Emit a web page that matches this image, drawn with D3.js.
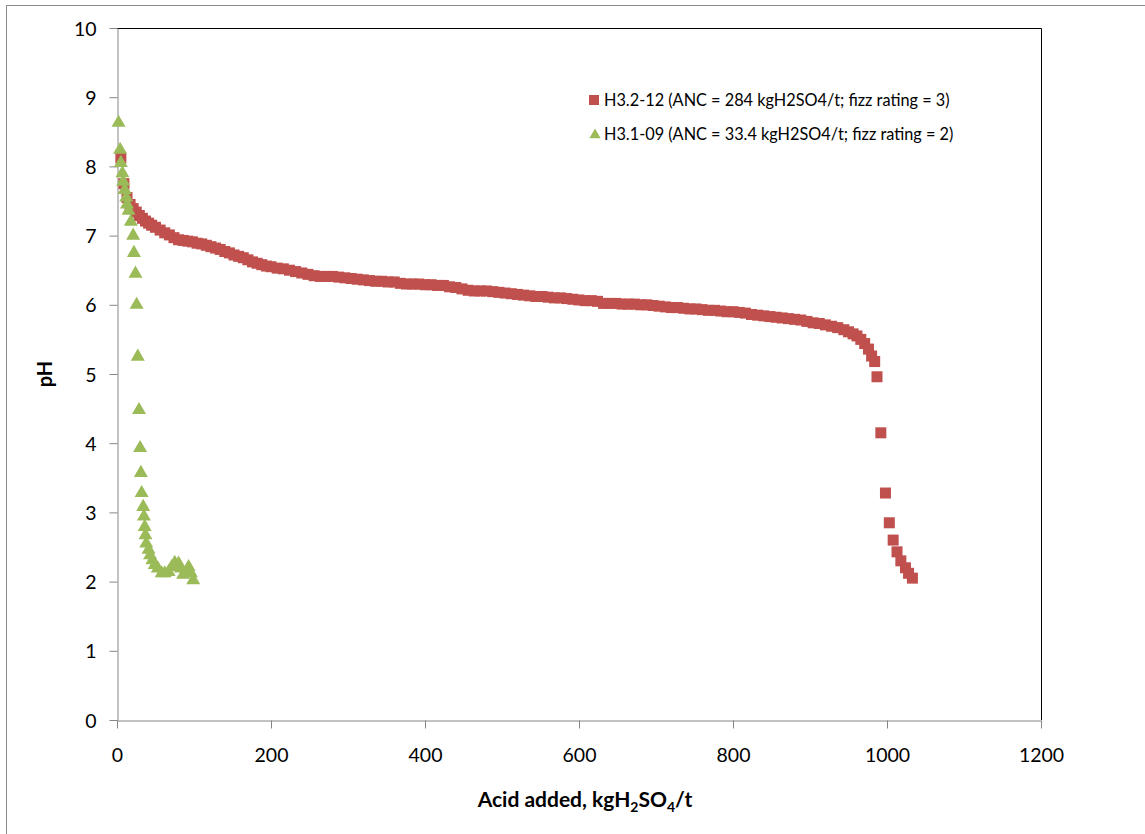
<!DOCTYPE html>
<html><head><meta charset="utf-8">
<script src="https://cdn.jsdelivr.net/npm/d3@7"></script>
<style>body{margin:0;background:#fff;}svg{display:block;font-family:Lato,"Open Sans",sans-serif;}</style>
</head><body>
<svg id="c" width="1145" height="834"></svg>
<script>
const xTicks = [0, 200, 400, 600, 800, 1000, 1200];
const yTicks = [0, 1, 2, 3, 4, 5, 6, 7, 8, 9, 10];
const seriesNames = ["H3.2-12 (ANC = 284 kgH2SO4/t; fizz rating = 3)", "H3.1-09 (ANC = 33.4 kgH2SO4/t; fizz rating = 2)"];
const redX = [5,9,13,17,21,25,29,33,37,41,45,50,56,62,68,74,80,86,92,98,104,110,116,122,128,134,140,146,152,158,164,170,176,182,188,194,200,208,216,224,232,240,248,256,264,272,280,288,296,304,312,320,328,336,344,352,360,368,376,384,392,400,408,416,424,432,440,448,456,464,472,480,488,496,504,512,520,528,536,544,552,560,568,576,584,592,600,608,616,624,632,640,648,656,664,672,680,688,696,704,712,720,728,736,744,752,760,768,776,784,792,800,808,816,824,832,840,848,856,864,872,880,888,896,904,912,920,928,936,944,950,956,961,966,971,976,980,984,987,992,998,1003,1008,1013,1018,1024,1028,1033];
const redPH = [8.12,7.75,7.55,7.45,7.39,7.34,7.29,7.25,7.21,7.18,7.15,7.12,7.08,7.04,7.01,6.97,6.94,6.93,6.92,6.91,6.89,6.88,6.86,6.84,6.82,6.8,6.77,6.75,6.72,6.7,6.68,6.65,6.62,6.6,6.58,6.56,6.55,6.53,6.52,6.5,6.48,6.46,6.44,6.42,6.41,6.41,6.41,6.4,6.39,6.38,6.37,6.36,6.35,6.34,6.34,6.33,6.33,6.31,6.3,6.3,6.3,6.29,6.29,6.28,6.28,6.26,6.25,6.23,6.21,6.2,6.2,6.2,6.19,6.18,6.17,6.16,6.15,6.14,6.13,6.12,6.12,6.11,6.1,6.1,6.09,6.08,6.07,6.06,6.06,6.05,6.02,6.02,6.02,6.01,6.01,6.01,6.0,6.0,5.99,5.98,5.97,5.96,5.96,5.95,5.94,5.94,5.93,5.92,5.92,5.91,5.9,5.9,5.89,5.88,5.86,5.85,5.84,5.83,5.82,5.81,5.8,5.79,5.78,5.76,5.74,5.73,5.71,5.69,5.67,5.64,5.61,5.58,5.55,5.5,5.44,5.36,5.26,5.18,4.96,4.15,3.28,2.85,2.6,2.43,2.3,2.2,2.12,2.05];
const greenX = [2,4,5,7,8,10,12,13,15,18,21,22,24,25.5,27,28.6,30,31,32,34,35,36,37,38,41,43,46,49,53,58,62,67,71,75,80,83,86,90,93,96,99];
const greenPH = [8.63,8.24,8.05,7.9,7.78,7.66,7.55,7.45,7.36,7.2,7.0,6.75,6.45,6.0,5.25,4.48,3.93,3.57,3.28,3.08,2.94,2.79,2.67,2.55,2.46,2.38,2.31,2.24,2.19,2.12,2.12,2.14,2.21,2.27,2.26,2.19,2.1,2.14,2.21,2.12,2.02];

const svg = d3.select("#c");
const m = {l:117, r:1041, t:28, b:720};
const x = d3.scaleLinear().domain([0,1200]).range([m.l, m.r]);
const y = d3.scaleLinear().domain([0,10]).range([m.b, m.t]);
const red = "#C0504D", green = "#9BBB59", axisC = "#868686";

svg.append("rect").attr("x",6.5).attr("y",5.5).attr("width",1160).attr("height",850)
  .attr("fill","none").attr("stroke","#8c8c8c").attr("stroke-width",1);

svg.append("path").attr("d",`M${m.l},${m.t+0.5}H${m.r+0.5}V${m.b}`).attr("fill","none").attr("stroke","#000").attr("stroke-width",1);

const xa = svg.append("g").attr("transform",`translate(0,${m.b+0.5})`)
  .call(d3.axisBottom(x).tickValues(xTicks).tickFormat(d3.format("d")).tickSize(8).tickSizeOuter(0).tickPadding(20));
const ya = svg.append("g").attr("transform",`translate(${m.l+0.5},0)`)
  .call(d3.axisLeft(y).tickValues(yTicks).tickFormat(d3.format("d")).tickSize(8).tickSizeOuter(0).tickPadding(13));
[xa,ya].forEach(g=>{
  g.selectAll("path,line").attr("stroke",axisC);
  g.selectAll("text").attr("fill","#000").style("font-size","19.5px").style("font-family","Lato, sans-serif");
});
ya.selectAll("text").attr("dy","0.36em");

const gr = svg.append("g");
const sq = 11;
gr.selectAll("rect.r").data(redX.map((v,i)=>[v,redPH[i]])).join("rect")
  .attr("x",d=>x(d[0])-sq/2).attr("y",d=>y(d[1])-sq/2).attr("width",sq).attr("height",sq).attr("fill",red);
const tri = d3.symbol().type(d3.symbolTriangle).size(85);
gr.selectAll("path.g").data(greenX.map((v,i)=>[v,greenPH[i]])).join("path")
  .attr("d",tri).attr("transform",d=>`translate(${x(d[0])},${y(d[1])})`).attr("fill",green);

const lg = svg.append("g");
lg.append("rect").attr("x",589).attr("y",95).attr("width",10).attr("height",10).attr("fill",red);
lg.append("path").attr("d",d3.symbol().type(d3.symbolTriangle).size(55)).attr("transform","translate(595,135)").attr("fill",green);
seriesNames.forEach((s,i)=>{
  lg.append("text").attr("x",604).attr("y",100+i*34).attr("dy","0.35em")
    .style("font-size","16.3px").style("font-family","Lato, sans-serif").attr("fill","#000").text(s);
});

svg.append("text").attr("transform","translate(52,374) rotate(-90)").attr("text-anchor","middle")
  .style("font-size","20px").style("font-weight","bold").text("pH");
const xt = svg.append("text").attr("x",585).attr("y",807).attr("text-anchor","middle")
  .style("font-size","21px").style("font-weight","bold");
xt.append("tspan").text("Acid added, kgH");
xt.append("tspan").attr("dy",5).style("font-size","14px").text("2");
xt.append("tspan").attr("dy",-5).text("SO");
xt.append("tspan").attr("dy",5).style("font-size","14px").text("4");
xt.append("tspan").attr("dy",-5).text("/t");
</script>
</body></html>
